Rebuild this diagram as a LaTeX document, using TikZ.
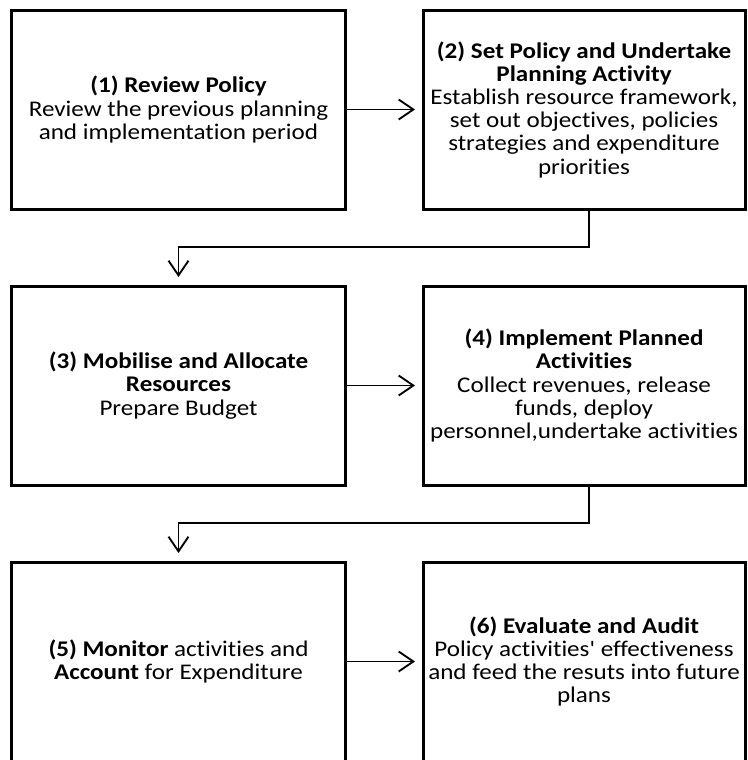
\documentclass[tikz,border=0pt]{standalone}
\usepackage{fontspec}
\setmainfont{Carlito}[FakeStretch=1.12, Ligatures={TeXOff,NoCommon}]
\usetikzlibrary{arrows.meta, positioning}

\begin{document}
\begin{tikzpicture}[
  >={Straight Barb[length=11pt, width=15pt]},
  node distance=57.75pt and 58.5pt,
  stage/.style={rectangle, draw=black, line width=2.25pt, minimum width=249.75pt,
    minimum height=149.25pt, inner sep=0pt, outer sep=0pt, align=center,
    font=\fontsize{16.8}{17.4}\selectfont},
  narrow/.style={minimum width=241.5pt},
  arr/.style={->, line width=1.4pt, shorten >=6pt},
]

\path[use as bounding box, clip] (-9pt,7.5pt) rectangle (551.25pt,-562.5pt);

% Review and plan
\node[stage, anchor=north west] (review) at (0,0) {\textbf{(1) Review Policy}\\Review the previous planning\\and implementation period};
\node[stage, narrow, right=of review] (plan) {\textbf{(2) Set Policy and Undertake}\\\textbf{Planning Activity}\\Establish resource framework,\\set out objectives, policies\\strategies and expenditure\\priorities};

% Mobilise and implement
\node[stage, below=of review] (mobilise) {\textbf{(3) Mobilise and Allocate}\\\textbf{Resources}\\Prepare Budget};
\node[stage, narrow, right=of mobilise] (implement) {\textbf{(4) Implement Planned}\\\textbf{Activities}\\Collect revenues, release\\funds, deploy\\personnel,undertake activities};

% Monitor and evaluate
\node[stage, below=of mobilise] (monitor) {\textbf{(5) Monitor} activities and\\\textbf{Account} for Expenditure};
\node[stage, narrow, right=of monitor] (evaluate) {\textbf{(6) Evaluate and Audit}\\Policy activities' effectiveness\\and feed the resuts into future\\plans};

% Arrows
\draw[arr] (review) -- (plan);
\draw[arr, shorten >=6.75pt] ([xshift=3.75pt]plan.south) -- ++(0,-28.5pt) -| (mobilise.north);

\draw[arr] (mobilise) -- (implement);
\draw[arr, shorten >=6.75pt] ([xshift=3.75pt]implement.south) -- ++(0,-28.5pt) -| (monitor.north);

\draw[arr] (monitor) -- (evaluate);

\end{tikzpicture}
\end{document}
